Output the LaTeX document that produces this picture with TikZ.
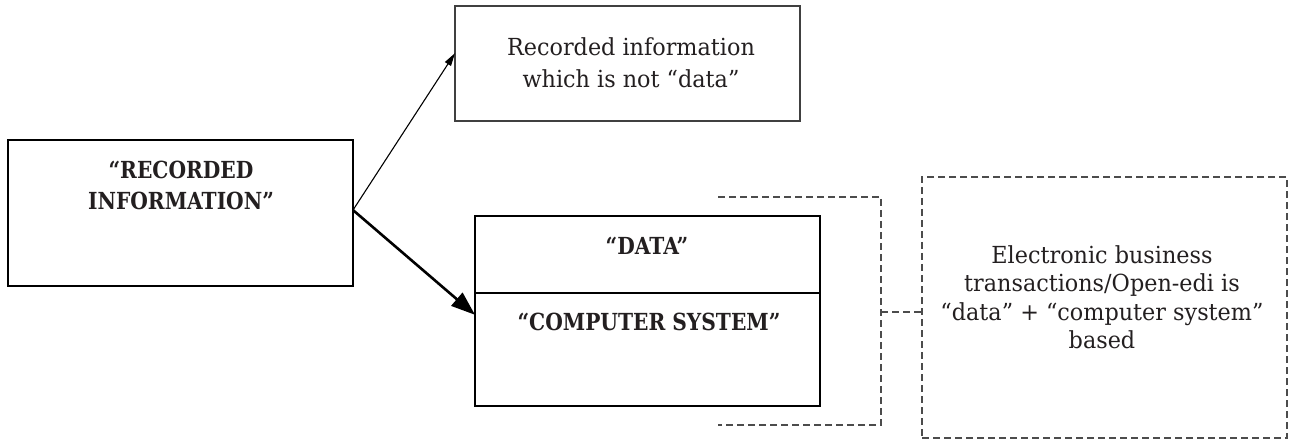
\documentclass[tikz,border=0pt]{standalone}
\usepackage{fontspec}
\setmainfont{DejaVu Serif}[FakeStretch=0.95]
\newfontfamily\bfcond{DejaVu Serif}[FakeStretch=0.86]
\usetikzlibrary{arrows.meta,calc}
\definecolor{ink}{HTML}{231F20}
\begin{document}
\begin{tikzpicture}[x=1pt,y=-1pt,
  thickbox/.style={draw=black,line width=2.6pt,inner sep=0pt,outer sep=0pt},
  thinbox/.style={draw=black!75,line width=1.3pt,inner sep=0pt,outer sep=0pt},
  dashbox/.style={draw=black!70,line width=1.3pt,dash pattern=on 7pt off 4pt,inner sep=0pt,outer sep=0pt},
  dashline/.style={draw=black!70,line width=1.3pt,dash pattern=on 7pt off 4pt},
  boldtext/.style={font={\bfcond\bfseries\fontsize{23.5}{31}\selectfont},text=ink,align=center,inner sep=0pt,anchor=north},
  plaintext/.style={font={\fontsize{23.5}{28.5}\selectfont},text=ink,align=center,inner sep=0pt,anchor=north},
  thinarrow/.style={draw=black,line width=1.1pt,-{Triangle[length=13pt,width=7pt]}},
  thickarrow/.style={draw=black,line width=2.6pt,-{Triangle[length=24pt,width=17pt]}}]
\useasboundingbox (0,0) rectangle (1294,441);
% boxes
\node[thickbox,minimum width=345pt,minimum height=146pt] (ri) at (180.5,213) {};
\node[thinbox,minimum width=345pt,minimum height=115pt] (rec) at (627.5,63.5) {};
\node[thickbox,minimum width=345pt,minimum height=77pt] (data) at (647.5,254.5) {};
\node[thickbox,minimum width=345pt,minimum height=113pt] (cs) at (647.5,349.5) {};
\node[dashbox,minimum width=365pt,minimum height=261pt] (eb) at (1104.5,307.5) {};
% texts
\node[boldtext] (riT) at (181,158) {\rule{0pt}{20pt}“RECORDED\\INFORMATION”};
\node[plaintext,font={\fontsize{23.5}{32}\selectfont}] (recT) at (631,35) {\rule{0pt}{20pt}Recorded information\\which is not “data”};
\node[boldtext] (dataT) at (647,234) {\rule{0pt}{20pt}“DATA”};
\node[boldtext] (csT) at (649,310) {\rule{0pt}{20pt}“COMPUTER SYSTEM”};
\node[plaintext] (ebT) at (1102,243) {\rule{0pt}{20pt}Electronic business\\transactions/Open-edi is\\“data” + “computer system”\\based};
% arrows
\draw[thinarrow] ($(ri.north east)!0.48!(ri.south east)$) -- ($(rec.north west)!0.41!(rec.south west)$);
\draw[thickarrow] ($(ri.north east)!0.48!(ri.south east)$) -- ($(data.north west)!0.52!(cs.south west)$);
% bracket
\coordinate (bt) at (718,197);
\coordinate (bm) at (881,312);
\coordinate (bb) at (718,425);
\draw[dashline] (bt) -| (bm) |- (bb);
\draw[dashline] (bm) -- (bm -| eb.west);
\end{tikzpicture}
\end{document}
